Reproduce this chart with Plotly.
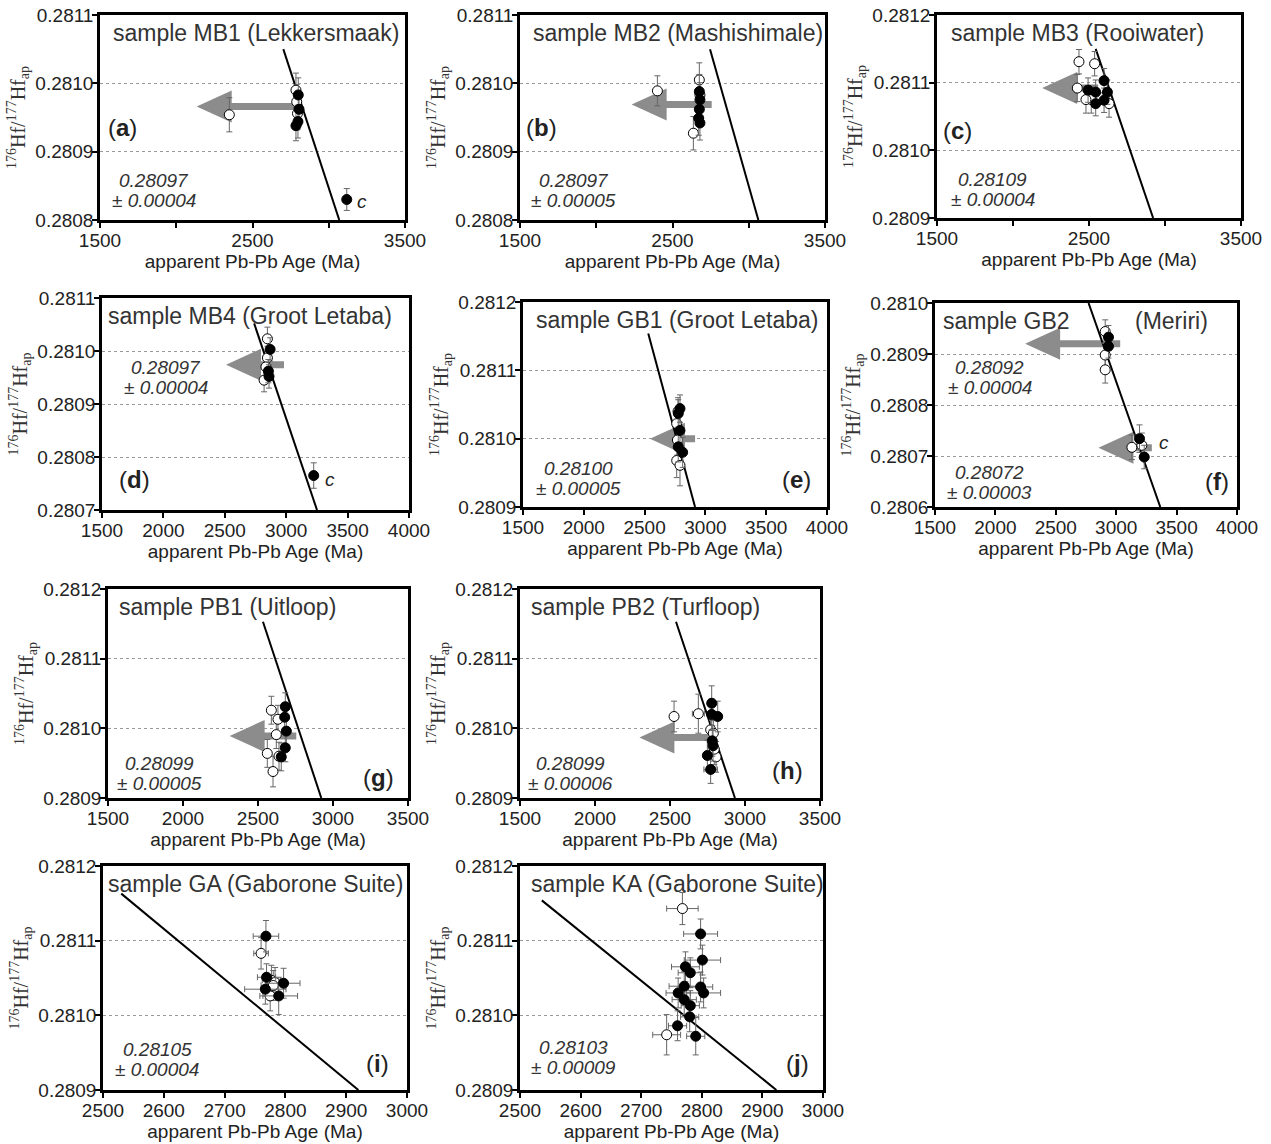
import plotly.graph_objects as go

W, H = 1271, 1144

# ---------------- data ----------------
# (a) MB1 Lekkersmaak
a_age_f = [2800, 2805, 2798, 2785]
a_hf_f = [0.280983, 0.280962, 0.280944, 0.280938]
a_ehf_f = [0.000025, 0.000024, 0.000024, 0.000022]
a_age_o = [2348, 2785, 2790, 2795]
a_hf_o = [0.280954, 0.280990, 0.280973, 0.280956]
a_ehf_o = [0.000025, 0.000025, 0.000025, 0.000024]
a_age_c = [3118]
a_hf_c = [0.280830]
a_ehf_c = [0.000016]
a_line_age = [2702, 3069]
a_line_hf = [0.28105, 0.28080]
a_arrows = [(2823, 2134, 0.280966)]

# (b) MB2 Mashishimale
b_age_f = [2676, 2680, 2676, 2672, 2680]
b_hf_f = [0.280988, 0.280976, 0.280962, 0.280949, 0.280942]
b_ehf_f = [0.000025, 0.000025, 0.000025, 0.000025, 0.000025]
b_age_o = [2401, 2637, 2676, 2680]
b_hf_o = [0.280989, 0.280927, 0.281005, 0.280983]
b_ehf_o = [0.000022, 0.0000245, 0.000025, 0.000025]
b_line_age = [2746, 3063]
b_line_hf = [0.28105, 0.28080]
b_arrows = [(2757, 2232, 0.280969)]

# (c) MB3 Rooiwater
c_age_f = [2494, 2544, 2544, 2599, 2599, 2621]
c_hf_f = [0.281089, 0.281086, 0.281069, 0.281103, 0.281074, 0.281086]
c_ehf_f = [0.000018, 0.000018, 0.000018, 0.000018, 0.000018, 0.000018]
c_age_o = [2434, 2537, 2423, 2515, 2632, 2480]
c_hf_o = [0.281131, 0.281128, 0.281092, 0.281075, 0.281069, 0.281075]
c_ehf_o = [0.000018, 0.000018, 0.000020, 0.000020, 0.000020, 0.000020]
c_line_age = [2544, 2922]
c_line_hf = [0.28115, 0.28090]
c_arrows = [(2560, 2192, 0.281092)]

# (d) MB4 Groot Letaba
d_age_f = [2869, 2860, 2855]
d_hf_f = [0.281003, 0.280952, 0.280962]
d_ehf_f = [0.000022, 0.000022, 0.000022]
d_age_o = [2847, 2847, 2835, 2820]
d_hf_o = [0.281023, 0.280987, 0.280970, 0.280945]
d_ehf_o = [0.000022, 0.000022, 0.000022, 0.000022]
d_age_c = [3224]
d_hf_c = [0.280765]
d_ehf_c = [0.000024]
d_line_age = [2739, 3251]
d_line_hf = [0.281052, 0.28070]
d_arrows = [(2982, 2510, 0.280974)]

# (e) GB1 Groot Letaba
e_age_f = [2791, 2777, 2791, 2777, 2813]
e_hf_f = [0.281044, 0.281037, 0.281012, 0.280988, 0.280980]
e_ehf_f = [0.000020, 0.000020, 0.000022, 0.000022, 0.000022]
e_age_o = [2775, 2764, 2770, 2764, 2791]
e_hf_o = [0.281040, 0.281022, 0.280998, 0.280968, 0.280961]
e_ehf_o = [0.000020, 0.000022, 0.000022, 0.000025, 0.000030]
e_line_age = [2530, 2915]
e_line_hf = [0.281154, 0.28090]
e_arrows = [(2915, 2544, 0.281000)]

# (f) GB2 Meriri
f_age_f = [2936, 2936, 3193, 3232]
f_hf_f = [0.280933, 0.280915, 0.280734, 0.280698]
f_ehf_f = [0.000023, 0.000023, 0.000027, 0.000023]
f_age_o = [2909, 2909, 2909, 3130, 3212]
f_hf_o = [0.280944, 0.280898, 0.280869, 0.280717, 0.280721]
f_ehf_o = [0.000023, 0.000024, 0.000026, 0.000024, 0.000024]
f_line_age = [2771, 3365]
f_line_hf = [0.28100, 0.28060]
f_arrows = [(3033, 2246, 0.280920), (3295, 2853, 0.280716)]

# (g) PB1 Uitloop
g_age_f = [2682, 2678, 2689, 2682, 2655]
g_hf_f = [0.281031, 0.281016, 0.280996, 0.280972, 0.280959]
g_ehf_f = [0.000020, 0.000020, 0.000020, 0.000020, 0.000020]
g_age_o = [2589, 2633, 2622, 2562, 2600, 2640]
g_hf_o = [0.281026, 0.281013, 0.280991, 0.280964, 0.280938, 0.280960]
g_ehf_o = [0.000020, 0.000020, 0.000020, 0.000020, 0.000022, 0.000020]
g_line_age = [2533, 2922]
g_line_hf = [0.281153, 0.28090]
g_arrows = [(2755, 2311, 0.280989)]

# (h) PB2 Turfloop
h_age_f = [2778, 2778, 2818, 2782, 2787, 2749, 2771]
h_hf_f = [0.281036, 0.281020, 0.281017, 0.280982, 0.280975, 0.280961, 0.280941]
h_ehf_f = [0.000025, 0.000022, 0.000022, 0.000022, 0.000022, 0.000022, 0.000020]
h_eage_f = [15, 15, 20, 15, 15, 15, 45]
h_age_o = [2527, 2689, 2771, 2789, 2807, 2795]
h_hf_o = [0.281017, 0.281021, 0.280998, 0.280993, 0.280959, 0.280970]
h_ehf_o = [0.000022, 0.000028, 0.000022, 0.000022, 0.000022, 0.000022]
h_eage_o = [15, 40, 15, 15, 15, 15]
h_line_age = [2540, 2933]
h_line_hf = [0.281153, 0.28090]
h_arrows = [(2767, 2296, 0.280987)]

# (i) GA Gaborone Suite
i_age_f = [2768, 2769, 2797, 2767, 2789]
i_hf_f = [0.281106, 0.281051, 0.281043, 0.281035, 0.281026]
i_ehf_f = [0.000021, 0.000018, 0.000020, 0.000020, 0.000025]
i_eage_f = [21, 15, 27, 34, 31]
i_age_o = [2760, 2777, 2783, 2775, 2780]
i_hf_o = [0.281083, 0.281047, 0.281044, 0.281026, 0.281040]
i_ehf_o = [0.000021, 0.000020, 0.000020, 0.000020, 0.000020]
i_eage_o = [12, 15, 15, 12, 20]
i_line_age = [2530, 2920]
i_line_hf = [0.281163, 0.28090]

# (j) KA Gaborone Suite
j_age_f = [2798, 2801, 2773, 2781, 2771, 2798, 2761, 2803, 2771, 2781, 2780, 2760, 2790]
j_hf_f = [0.281109, 0.281074, 0.281065, 0.281057, 0.281039, 0.281038, 0.281030,
          0.281030, 0.281021, 0.281013, 0.280998, 0.280986, 0.280972]
j_ehf_f = [0.000020, 0.000020, 0.000020, 0.000020, 0.000020, 0.000020, 0.000020,
           0.000020, 0.000020, 0.000020, 0.000020, 0.000020, 0.000025]
j_eage_f = [28, 30, 23, 20, 25, 20, 20, 28, 20, 15, 15, 15, 15]
j_age_o = [2768, 2742]
j_hf_o = [0.281143, 0.280974]
j_ehf_o = [0.0000215, 0.000027]
j_eage_o = [26, 23]
j_line_age = [2536, 2923]
j_line_hf = [0.281154, 0.28090]

# ---------------- layout description ----------------
X1 = [1500, 2000, 2500, 3000, 3500]
X1L = ['1500', '', '2500', '', '3500']
X1F = ['1500', '2000', '2500', '3000', '3500']
X2 = [1500, 2000, 2500, 3000, 3500, 4000]
X3 = [2500, 2600, 2700, 2800, 2900, 3000]

panels = [
    dict(box=(100, 15, 405, 220), xr=(1500, 3500), xt=X1, xl=X1L, yr=(0.2808, 0.2811),
         title='sample MB1 (Lekkersmaak)', tx=0.035, letter='a', lp=(0.075, 0.449),
         means=[('0.28097', '± 0.00004', 0.177, 0.146)],
         f=(a_age_f, a_hf_f, a_ehf_f, None), o=(a_age_o, a_hf_o, a_ehf_o, None),
         c=(a_age_c, a_hf_c, a_ehf_c), clab=[(3216, 0.280827)],
         line=(a_line_age, a_line_hf), arrows=a_arrows),
    dict(box=(520, 15, 825, 220), xr=(1500, 3500), xt=X1, xl=X1L, yr=(0.2808, 0.2811),
         title='sample MB2 (Mashishimale)', tx=0.035, letter='b', lp=(0.072, 0.449),
         means=[('0.28097', '± 0.00005', 0.177, 0.146)],
         f=(b_age_f, b_hf_f, b_ehf_f, None), o=(b_age_o, b_hf_o, b_ehf_o, None),
         c=None, clab=[], line=(b_line_age, b_line_hf), arrows=b_arrows),
    dict(box=(937, 15, 1241, 218), xr=(1500, 3500), xt=X1, xl=X1L, yr=(0.2809, 0.2812),
         title='sample MB3 (Rooiwater)', tx=0.04, letter='c', lp=(0.066, 0.433),
         means=[('0.28109', '± 0.00004', 0.184, 0.138)],
         f=(c_age_f, c_hf_f, c_ehf_f, None), o=(c_age_o, c_hf_o, c_ehf_o, None),
         c=None, clab=[], line=(c_line_age, c_line_hf), arrows=c_arrows),
    dict(box=(102, 298, 409, 510), xr=(1500, 4000), xt=X2, xl=[str(v) for v in X2], yr=(0.2807, 0.2811),
         title='sample MB4 (Groot Letaba)', tx=0.014, letter='d', lp=(0.107, 0.142),
         means=[('0.28097', '± 0.00004', 0.208, 0.623)],
         f=(d_age_f, d_hf_f, d_ehf_f, None), o=(d_age_o, d_hf_o, d_ehf_o, None),
         c=(d_age_c, d_hf_c, d_ehf_c), clab=[(3359, 0.280758)],
         line=(d_line_age, d_line_hf), arrows=d_arrows),
    dict(box=(523, 302, 827, 507), xr=(1500, 4000), xt=X2, xl=[str(v) for v in X2], yr=(0.2809, 0.2812),
         title='sample GB1 (Groot Letaba)', tx=0.035, letter='e', lp=(0.90, 0.132),
         means=[('0.28100', '± 0.00005', 0.184, 0.141)],
         f=(e_age_f, e_hf_f, e_ehf_f, None), o=(e_age_o, e_hf_o, e_ehf_o, None),
         c=None, clab=[], line=(e_line_age, e_line_hf), arrows=e_arrows),
    dict(box=(935, 303, 1237, 507), xr=(1500, 4000), xt=X2, xl=[str(v) for v in X2], yr=(0.2806, 0.2810),
         title='sample GB2', tx=0.02, title2='(Meriri)', letter='f', lp=(0.934, 0.123),
         means=[('0.28092', '± 0.00004', 0.182, 0.637), ('0.28072', '± 0.00003', 0.182, 0.122)],
         f=(f_age_f, f_hf_f, f_ehf_f, None), o=(f_age_o, f_hf_o, f_ehf_o, None),
         c=None, clab=[(3392, 0.280727)], line=(f_line_age, f_line_hf), arrows=f_arrows),
    dict(box=(108, 589, 408, 798), xr=(1500, 3500), xt=X1, xl=X1F, yr=(0.2809, 0.2812),
         title='sample PB1 (Uitloop)', tx=0.03, letter='g', lp=(0.903, 0.098),
         means=[('0.28099', '± 0.00005', 0.17, 0.118)],
         f=(g_age_f, g_hf_f, g_ehf_f, None), o=(g_age_o, g_hf_o, g_ehf_o, None),
         c=None, clab=[], line=(g_line_age, g_line_hf), arrows=g_arrows),
    dict(box=(520, 589, 820, 798), xr=(1500, 3500), xt=X1, xl=X1F, yr=(0.2809, 0.2812),
         title='sample PB2 (Turfloop)', tx=0.03, letter='h', lp=(0.893, 0.131),
         means=[('0.28099', '± 0.00006', 0.167, 0.118)],
         f=(h_age_f, h_hf_f, h_ehf_f, h_eage_f), o=(h_age_o, h_hf_o, h_ehf_o, h_eage_o),
         c=None, clab=[], line=(h_line_age, h_line_hf), arrows=h_arrows),
    dict(box=(103, 866, 407, 1090), xr=(2500, 3000), xt=X3, xl=[str(v) for v in X3], yr=(0.2809, 0.2812),
         title='sample GA (Gaborone Suite)', tx=0.01, letter='i', lp=(0.902, 0.119),
         means=[('0.28105', '± 0.00004', 0.178, 0.135)],
         f=(i_age_f, i_hf_f, i_ehf_f, i_eage_f), o=(i_age_o, i_hf_o, i_ehf_o, i_eage_o),
         c=None, clab=[], line=(i_line_age, i_line_hf), arrows=[]),
    dict(box=(520, 866, 823, 1090), xr=(2500, 3000), xt=X3, xl=[str(v) for v in X3], yr=(0.2809, 0.2812),
         title='sample KA (Gaborone Suite)', tx=0.03, letter='j', lp=(0.915, 0.119),
         means=[('0.28103', '± 0.00009', 0.175, 0.144)],
         f=(j_age_f, j_hf_f, j_ehf_f, j_eage_f), o=(j_age_o, j_hf_o, j_ehf_o, j_eage_o),
         c=None, clab=[], line=(j_line_age, j_line_hf), arrows=[]),
]

SANS = 'Liberation Sans, Arial, sans-serif'
SERIF = 'Liberation Serif, Times New Roman, serif'
ERRC = '#666666'
ARROWC = '#8c8c8c'
HEAD_LEN_PX, HEAD_HALF_PX, SHAFT_HALF_PX = 35, 16, 3.5

fig = go.Figure()
annotations = []
layout_axes = {}

for k, p in enumerate(panels):
    n = '' if k == 0 else str(k + 1)
    xa, ya = 'x' + n, 'y' + n
    x0p, y0p, x1p, y1p = p['box']
    wpx, hpx = x1p - x0p, y1p - y0p
    xr, yr = p['xr'], p['yr']
    dxpp = (xr[1] - xr[0]) / wpx
    dypp = (yr[1] - yr[0]) / hpx
    yt = []
    v = yr[0]
    while v <= yr[1] + 1e-9:
        yt.append(round(v, 4))
        v += 0.0001

    layout_axes['xaxis' + n] = dict(
        domain=[x0p / W, x1p / W], anchor=ya, range=list(xr), automargin=False,
        tickvals=p['xt'], ticktext=p['xl'], ticks='outside', ticklen=5, tickwidth=2,
        ticklabelstandoff=-4,
        tickcolor='black', showline=True, linewidth=2.5, linecolor='black', mirror=True,
        showgrid=False, zeroline=False, tickfont=dict(family=SANS, size=19, color='#222'),
        title=dict(text='apparent Pb-Pb Age (Ma)', font=dict(family=SANS, size=19, color='#222'), standoff=0),
    )
    layout_axes['yaxis' + n] = dict(
        domain=[1 - y1p / H, 1 - y0p / H], anchor=xa, range=list(yr), automargin=False,
        tickvals=yt, tickformat='.4f', ticks='outside', ticklen=5, tickwidth=2,
        ticklabelstandoff=-5,
        tickcolor='black', showline=True, linewidth=2.5, linecolor='black', mirror=True,
        showgrid=True, gridcolor='#9a9a9a', griddash='dot', gridwidth=1, zeroline=False,
        tickfont=dict(family=SANS, size=19, color='#222'),
        title=dict(text='<sup>176</sup>Hf/<sup>177</sup>Hf<sub>ap</sub>',
                   font=dict(family=SERIF, size=20, color='#333'), standoff=5),
    )

    # arrows (polygons in data space)
    for (tail, tip, yy) in p['arrows']:
        base = tip + HEAD_LEN_PX * dxpp
        sh, hh = SHAFT_HALF_PX * dypp, HEAD_HALF_PX * dypp
        xs = [tail, base, base, tip, base, base, tail, tail]
        ys = [yy + sh, yy + sh, yy + hh, yy, yy - hh, yy - sh, yy - sh, yy + sh]
        fig.add_trace(go.Scatter(x=xs, y=ys, xaxis=xa, yaxis=ya, mode='lines', fill='toself',
                                 fillcolor=ARROWC, line=dict(width=0, color=ARROWC),
                                 hoverinfo='skip', showlegend=False))

    # reference line
    fig.add_trace(go.Scatter(x=p['line'][0], y=p['line'][1], xaxis=xa, yaxis=ya, mode='lines',
                             line=dict(color='black', width=2), showlegend=False))

    def add_pts(data, filled):
        ages, hfs, ehf, eage = data
        fig.add_trace(go.Scatter(
            x=ages, y=hfs, xaxis=xa, yaxis=ya, mode='markers', showlegend=False,
            marker=dict(size=10, color='black' if filled else 'white',
                        line=dict(color='black', width=1)),
            error_y=dict(type='data', array=ehf, color=ERRC, thickness=1, width=3),
            error_x=dict(type='data', array=eage if eage is not None else [12] * len(ages),
                         color=ERRC, thickness=1, width=3),
        ))

    add_pts(p['o'], False)
    add_pts(p['f'], True)
    if p['c'] is not None:
        add_pts((p['c'][0], p['c'][1], p['c'][2], None), True)

    dref_x, dref_y = xa + ' domain', ya + ' domain'
    annotations.append(dict(text=p['title'], xref=dref_x, yref=dref_y, x=p['tx'], y=1 - 18 / hpx,
                            xanchor='left', yanchor='middle', showarrow=False,
                            font=dict(family=SANS, size=23, color='#333')))
    if 'title2' in p:
        annotations.append(dict(text=p['title2'], xref=dref_x, yref=dref_y, x=0.655, y=1 - 18 / hpx,
                                xanchor='left', yanchor='middle', showarrow=False,
                                font=dict(family=SANS, size=23, color='#333')))
    annotations.append(dict(text='(<b>' + p['letter'] + '</b>)', xref=dref_x, yref=dref_y,
                            x=p['lp'][0], y=p['lp'][1], xanchor='center', yanchor='middle',
                            showarrow=False, font=dict(family=SANS, size=24, color='#222')))
    for (t1, t2, mx, my) in p['means']:
        for txt, dy in ((t1, 10), (t2, -10)):
            annotations.append(dict(text='<i>' + txt + '</i>', xref=dref_x, yref=dref_y,
                                    x=mx, y=my + dy / hpx, xanchor='center', yanchor='middle',
                                    showarrow=False, font=dict(family=SANS, size=19, color='#333')))
    for (cx, cy) in p['clab']:
        annotations.append(dict(text='<i>c</i>', xref=xa, yref=ya, x=cx, y=cy, xanchor='center',
                                yanchor='middle', showarrow=False,
                                font=dict(family=SANS, size=19, color='#222')))

fig.update_layout(width=W, height=H, margin=dict(l=0, r=0, t=0, b=0),
                  paper_bgcolor='white', plot_bgcolor='white', showlegend=False,
                  annotations=annotations, **layout_axes)
fig.write_html('out.html', config={'displayModeBar': False},
               post_script="document.body.style.margin='0px';")
